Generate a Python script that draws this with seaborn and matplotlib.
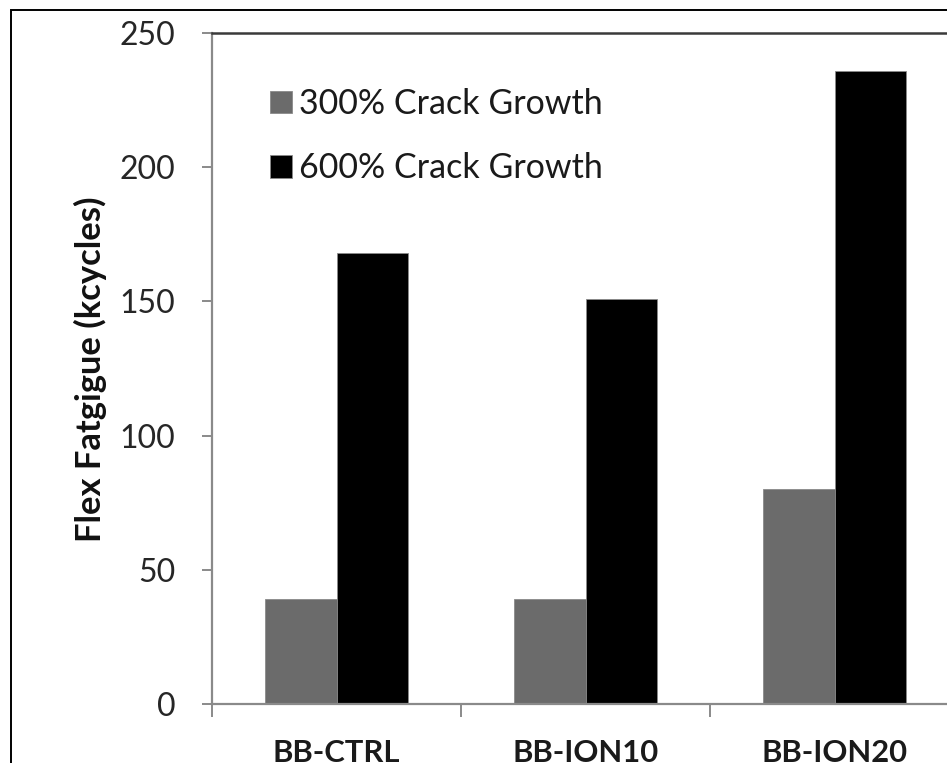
import matplotlib
matplotlib.use("Agg")
import matplotlib.pyplot as plt
from matplotlib.patches import Rectangle
import seaborn as sns
import pandas as pd

# Flex fatigue life (kcycles) per compound
samples = ["BB-CTRL", "BB-ION10", "BB-ION20"]
series = ["300% Crack Growth", "600% Crack Growth"]
growth_300 = [39, 39, 80]
growth_600 = [168, 151, 236]
y_ticks = [0, 50, 100, 150, 200, 250]

df = pd.DataFrame({
    "sample": samples * 2,
    "series": [series[0]] * 3 + [series[1]] * 3,
    "kcycles": growth_300 + growth_600,
})

sns.set_theme(style="white")
plt.rcParams["font.family"] = ["Lato", "DejaVu Sans"]

fig = plt.figure(figsize=(9.47, 7.63), dpi=100)
ax = fig.add_axes([212 / 947, 1 - 704 / 763, 747 / 947, 671 / 763])

sns.barplot(
    data=df, x="sample", y="kcycles", hue="series",
    palette={series[0]: "#6b6b6b", series[1]: "#000000"},
    width=0.574, saturation=1, ax=ax, errorbar=None,
    edgecolor="#8a8a8a", linewidth=0.6,
)

ax.set_xlim(-0.5, 2.5)
ax.set_ylim(0, 250)

# y axis
ax.set_yticks(y_ticks)
ax.set_yticklabels([str(v) for v in y_ticks], fontsize=23, color="#262626")
ax.tick_params(axis="y", which="major", left=True, length=7.2, width=1.4,
               color="#8a8a8a", pad=19)

# x axis: ticks on category boundaries, labels at centres
ax.set_xticks([-0.5, 0.5, 1.5, 2.5])
ax.set_xticklabels([])
ax.set_xticks([0, 1, 2], minor=True)
ax.set_xticklabels(samples, minor=True, fontsize=22.3, fontweight="bold",
                   color="#1a1a1a")
ax.tick_params(axis="x", which="major", bottom=True, length=9.5, width=1.4,
               color="#8a8a8a")
ax.tick_params(axis="x", which="minor", bottom=False, length=0, pad=25)
ax.set_xlabel("")

ax.set_ylabel("Flex Fatgigue (kcycles)", fontsize=24.8, fontweight="bold",
              color="#111111", va="center")
ax.yaxis.set_label_coords(-0.163, 0.499)

for side in ("left", "bottom"):
    ax.spines[side].set_color("#8a8a8a")
    ax.spines[side].set_linewidth(1.6)
ax.spines["top"].set_color("#3a3a3a")
ax.spines["top"].set_linewidth(1.8)
ax.spines["right"].set_visible(False)

leg = ax.legend(
    loc="upper left", bbox_to_anchor=(58 / 747, 1 - 55 / 671),
    frameon=False, fontsize=24.5, handlelength=0.65, handleheight=0.65,
    handletextpad=0.2, labelspacing=0.95, borderpad=0, borderaxespad=0,
)
for t in leg.get_texts():
    t.set_color("#1a1a1a")

# outer chart border
fig.patches.append(Rectangle((11 / 947, -0.1), 1.2, 1.1 - 10 / 763,
                             transform=fig.transFigure, fill=False,
                             edgecolor="#000000", linewidth=1.4))

fig.savefig("out.png", dpi=100)
